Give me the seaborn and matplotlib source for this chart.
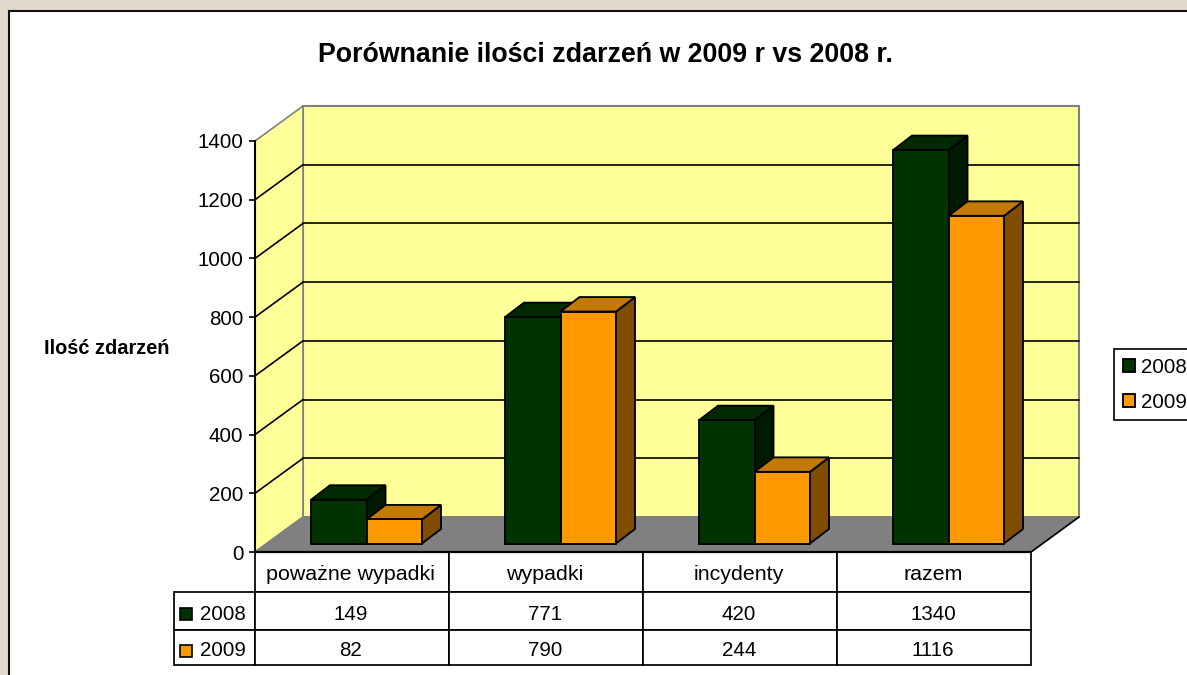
# -*- coding: UTF-8 -*-
import matplotlib
matplotlib.use("Agg")
import matplotlib.pyplot as plt
from matplotlib.patches import Polygon, Rectangle
from matplotlib.table import Table
from matplotlib.transforms import Affine2D, IdentityTransform
import pandas as pd
import seaborn as sns

# dane
kategorie = ['poważne wypadki', 'wypadki', 'incydenty', 'razem']
lata = ['2008', '2009']
v2008 = [149, 771, 420, 1340]
v2009 = [82, 790, 244, 1116]
y_ticks = [0, 200, 400, 600, 800, 1000, 1200, 1400]

kolory = {'2008': '#003300', '2009': '#FF9900'}
kolory_gora = {'2008': '#002900', '2009': '#C27A00'}
kolory_bok = {'2008': '#001A00', '2009': '#804D00'}
FS = 14.8
LW = 1.35

sns.set_theme(style='ticks')
plt.rcParams['font.family'] = ['Liberation Sans', 'DejaVu Sans']
plt.rcParams['text.color'] = 'black'

W, H = 1187, 675
fig = plt.figure(figsize=(W / 100, H / 100), dpi=100, facecolor='#E0D9CC')
# biały panel, wychodzi poza prawą i dolną krawędź
fig.add_artist(Rectangle((8.5, -10), W, H - 11 + 10, transform=IdentityTransform(),
                         fc='white', ec='#111111', lw=1.5, zorder=-1))

ax = fig.add_axes([255 / W, (H - 552) / H, 776 / W, 411 / H])
ax.patch.set_visible(False)

df = pd.DataFrame({'kategoria': kategorie * 2,
                   'rok': [lata[0]] * 4 + [lata[1]] * 4,
                   'ile': v2008 + v2009})
sns.barplot(data=df, x='kategoria', y='ile', hue='rok', hue_order=lata,
            palette=kolory, width=0.572, gap=0, saturation=1, ax=ax,
            edgecolor='black', linewidth=LW, err_kws={'linewidth': 0})
ax.set_xlim(-0.5, 3.5)
ax.set_ylim(0, 1400)
ax.set_yticks(y_ticks)
ax.tick_params(axis='y', labelsize=FS, length=4.3, width=1.2, pad=4, color='black', labelcolor='black')
ax.set_xticks([])
ax.set_xlabel('')
ax.set_ylabel('')
for s in ['top', 'right', 'bottom']:
    ax.spines[s].set_visible(False)
ax.spines['left'].set_color('black')
ax.spines['left'].set_linewidth(1.5)


def depth(dx, dy):
    return ax.transData + Affine2D().translate(dx, dy)


def px(x, y, dx=0, dy=0):
    p = ax.transData.transform((x, y))
    return (p[0] + dx, p[1] + dy)


GLEB = (48, 35)
SZARY = '#808080'
# podłoga i ściany
ax.add_patch(Rectangle((-0.5, 0), 4, 1400, transform=depth(*GLEB), fc='#FFFF99', ec=SZARY,
                       lw=1.5, zorder=0.5, clip_on=False))
ax.add_patch(Polygon([px(-0.5, 0), px(-0.5, 1400), px(-0.5, 1400, *GLEB), px(-0.5, 0, *GLEB)],
                     transform=IdentityTransform(), fc='#FFFF99', ec=SZARY, lw=1.2,
                     zorder=0.6, clip_on=False))
ax.add_patch(Polygon([px(-0.5, 0), px(3.5, 0), px(3.5, 0, *GLEB), px(-0.5, 0, *GLEB)],
                     transform=IdentityTransform(), fc=SZARY, ec=SZARY, lw=1,
                     zorder=0.7, clip_on=False))
a, b = px(3.5, 0), px(3.5, 0, *GLEB)
ax.plot([a[0], b[0]], [a[1], b[1]], transform=IdentityTransform(), color='black', lw=1.2,
        zorder=0.8, clip_on=False)
for v in y_ticks[1:-1]:
    ax.plot([-0.5, 3.5], [v, v], transform=depth(*GLEB), color='black', lw=1.2, zorder=0.8,
            clip_on=False)
    a, b = px(-0.5, v), px(-0.5, v, *GLEB)
    ax.plot([a[0], b[0]], [a[1], b[1]], transform=IdentityTransform(), color='black', lw=1.2,
            zorder=0.8, clip_on=False)

# słupki "3D"
PRZOD = (14.5, 8.5)
BOK = (19, 14.5)
for i, cont in enumerate(ax.containers):
    rok = lata[i]
    for bar in cont:
        x0, x1 = bar.get_x(), bar.get_x() + bar.get_width()
        h = bar.get_height()
        dx, dy = PRZOD
        ex, ey = PRZOD[0] + BOK[0], PRZOD[1] + BOK[1]
        ax.add_patch(Polygon([px(x1, 0, dx, dy), px(x1, h, dx, dy), px(x1, h, ex, ey), px(x1, 0, ex, ey)],
                             transform=IdentityTransform(), fc=kolory_bok[rok], ec='black', lw=LW,
                             zorder=3 + i, clip_on=False))
        ax.add_patch(Polygon([px(x0, h, dx, dy), px(x1, h, dx, dy), px(x1, h, ex, ey), px(x0, h, ex, ey)],
                             transform=IdentityTransform(), fc=kolory_gora[rok], ec='black', lw=LW,
                             zorder=3 + i, clip_on=False))
        bar.set_transform(depth(dx, dy))
        bar.set_zorder(3.5 + i)
        bar.set_clip_on(False)

# tabela pod wykresem
wiersze = [[''] + kategorie,
           [lata[0]] + [str(v) for v in v2008],
           [lata[1]] + [str(v) for v in v2009]]
wys = [40, 38, 35]
szer = [81, 194, 194, 194, 194]
przes = [2, 3.5, 3.5]
tab = Table(ax, bbox=[(174 - 255) / 776, -113 / 411, 857 / 776, 113 / 411])
tab.auto_set_font_size(False)
for r, wiersz in enumerate(wiersze):
    for c, tekst in enumerate(wiersz):
        kom = tab.add_cell(r, c, width=szer[c], height=wys[r], text=tekst,
                           loc='right' if c == 0 else 'center', facecolor='white', edgecolor='black')
        kom.set_linewidth(1.25)
        kom.set_fontsize(15.4 if r == 0 else FS)
        kom.get_text().set_transform(Affine2D().translate(-1 if c else 0, -przes[r]))
        if c == 0:
            kom.PAD = 0.11
            if r == 0:
                kom.visible_edges = ''
tab.set_zorder(7)
ax.add_table(tab)
ax.plot([-0.5, 3.5], [0, 0], color='black', lw=1.6, zorder=8, clip_on=False)

# kwadraciki w tabeli
for rok, y_sw in zip(lata, [614, 651]):
    ax.add_patch(Rectangle((180, H - y_sw - 6), 12, 12, transform=IdentityTransform(),
                           fc=kolory[rok], ec='black', lw=1.2, zorder=9, clip_on=False))

sns.move_legend(ax, 'upper left', bbox_to_anchor=(1114 / W, (H - 349) / H),
                bbox_transform=fig.transFigure, title=None, frameon=True, fancybox=False,
                fontsize=FS, handlelength=0.6, handleheight=0.6, handletextpad=0.3,
                labelspacing=0.78, borderpad=0.42, borderaxespad=0, edgecolor='black', framealpha=1)
leg = ax.get_legend()
leg.get_frame().set_linewidth(1.2)
leg.set_zorder(10)

fig.text(605 / W, (H - 55) / H, 'Porównanie ilości zdarzeń w 2009 r vs 2008 r.', ha='center',
         va='center', fontsize=19.3, fontweight='bold')
fig.text(107 / W, (H - 349) / H, 'Ilość zdarzeń', ha='center', va='center', fontsize=14.4,
         fontweight='bold')

fig.savefig('out.png', dpi=100, facecolor=fig.get_facecolor())
